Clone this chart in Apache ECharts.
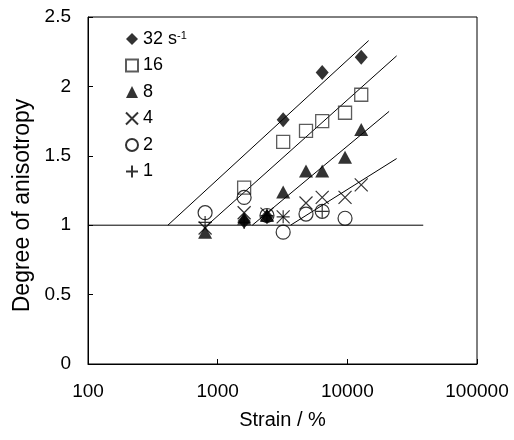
<!DOCTYPE html>
<html>
<head>
<meta charset="utf-8">
<script src="https://cdn.jsdelivr.net/npm/echarts@6/dist/echarts.min.js"></script>
<style>html,body{margin:0;padding:0;background:#fff}#c{width:514px;height:440px}</style>
</head>
<body>
<div id="c"></div>
<script>
// strain values (%)
const strains = [800, 1600, 2400, 3200, 4800, 6400, 9600, 12800];
// degree of anisotropy per strain rate (null = no point)
const rate32 = [null, 1.03, 1.06, 1.76, null, 2.10, null, 2.21];
const rate16 = [null, 1.27, null, 1.60, 1.68, 1.75, 1.81, 1.94];
const rate8  = [0.95, 1.05, 1.07, 1.24, 1.39, 1.39, 1.49, 1.69];
const rate4  = [0.98, 1.09, 1.08, 1.06, 1.16, 1.20, 1.20, 1.29];
const rate2  = [1.09, 1.20, 1.07, 0.95, 1.08, 1.10, 1.05, null];
const rate1  = [1.02, 1.02, 1.07, 1.06, null, 1.10, null, null];
// fitted trend lines [strain, degree]
const fit32 = [[413, 1], [14600, 2.33]];
const fit16 = [[833, 1], [24000, 2.22]];
const fit8  = [[1850, 1], [21000, 1.82]];
const fit4  = [[3650, 1], [24000, 1.48]];
const baseLine = [[100, 1], [38500, 1]];
const xTicks = [100, 1000, 10000, 100000];

const FONT = 'Liberation Sans';
function pts(arr){ const o=[]; arr.forEach((v,i)=>{ if(v!==null) o.push([strains[i], v]); }); return o; }
const crossPath = 'path://M0,0L10,10M10,0L0,10';
const plusPath = 'path://M5,0L5,10M0,5L10,5';
const scatterDefs = [
  {name:'32', data:rate32, symbol:'diamond', size:[13,15], style:{color:'#000'}},
  {name:'16', data:rate16, symbol:'rect', size:13, style:{color:'rgba(0,0,0,0)', borderColor:'#333', borderWidth:1.3}},
  {name:'8', data:rate8, symbol:'triangle', size:[14,13], style:{color:'#000'}},
  {name:'4', data:rate4, symbol:crossPath, size:13, style:{color:'rgba(0,0,0,0)', borderColor:'#000', borderWidth:1.2}},
  {name:'2', data:rate2, symbol:'circle', size:14, style:{color:'rgba(0,0,0,0)', borderColor:'#000', borderWidth:1.2}},
  {name:'1', data:rate1, symbol:plusPath, size:13, style:{color:'rgba(0,0,0,0)', borderColor:'#000', borderWidth:1.2}}
];
const series = [];
[fit32, fit16, fit8, fit4, baseLine].forEach(d => series.push({
  type:'line', data:d, symbol:'none', silent:true, z:1,
  lineStyle:{color:'#000', width:1}
}));
scatterDefs.forEach(s => series.push({
  type:'scatter', name:s.name, data:pts(s.data), symbol:s.symbol, symbolSize:s.size,
  itemStyle:s.style, z:3
}));

const chart = echarts.init(document.getElementById('c'), null, {renderer:'canvas'});
chart.setOption({
  animation:false,
  backgroundColor:'#fff',
  textStyle:{fontFamily:FONT},
  grid:{left:88, right:37, top:17, bottom:76, show:true, borderColor:'#000', borderWidth:1},
  legend:{
    orient:'vertical', left:125, top:30, padding:0, itemWidth:12, itemHeight:12, itemGap:8.5,
    data:scatterDefs.map(s=>s.name),
    textStyle:{fontFamily:FONT, fontSize:18, color:'#000', lineHeight:18,
      rich:{sup:{fontSize:11, fontFamily:FONT, color:'#000', verticalAlign:'top', lineHeight:18, padding:[0,0,7,0]}}},
    formatter:function(n){ return n==='32' ? '32 s{sup|-1}' : n; }
  },
  xAxis:{
    type:'log', logBase:10, min:xTicks[0], max:xTicks[xTicks.length-1],
    name:'Strain / %', nameLocation:'middle', nameGap:46,
    nameTextStyle:{fontFamily:FONT, fontSize:20, color:'#000'},
    axisLine:{lineStyle:{color:'#000', width:1}},
    axisTick:{inside:true, length:5, lineStyle:{color:'#000'}},
    minorTick:{show:false}, splitLine:{show:false},
    axisLabel:{fontFamily:FONT, fontSize:19, color:'#000', margin:18, formatter:v=>String(Math.round(v))}
  },
  yAxis:{
    type:'value', min:0, max:2.5, interval:0.5,
    name:'Degree of anisotropy', nameLocation:'middle', nameGap:54,
    nameTextStyle:{fontFamily:FONT, fontSize:23, color:'#000', padding:[0,30,0,0]},
    axisLine:{show:true, lineStyle:{color:'#000', width:1}},
    axisTick:{show:true, inside:true, length:5, lineStyle:{color:'#000'}},
    splitLine:{show:false},
    axisLabel:{fontFamily:FONT, fontSize:19, color:'#000', margin:17}
  },
  series:series
});
</script>
</body>
</html>
